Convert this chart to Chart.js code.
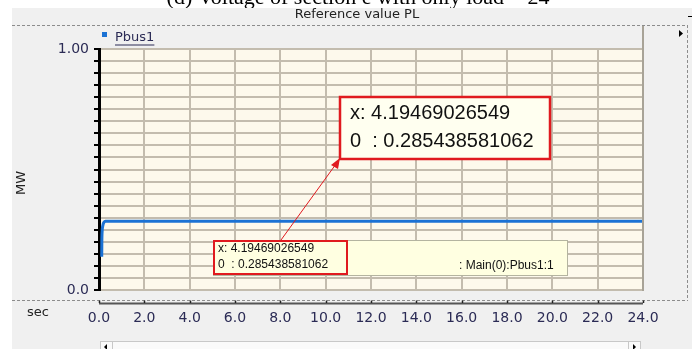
<!DOCTYPE html>
<html>
<head>
<meta charset="utf-8">
<script src="https://cdn.jsdelivr.net/npm/chart.js@4.4.1/dist/chart.umd.min.js"></script>
<style>
  html, body { margin: 0; padding: 0; background: #fff; }
  #wrap { width: 692px; height: 349px; position: relative; }
</style>
</head>
<body>
<div id="wrap"><canvas id="myChart" width="692" height="349"></canvas></div>
<script>
// simulation output: time (sec) and Pbus1 (MW)
const times = [0.12, 0.125, 0.14, 0.17, 0.22, 0.3, 0.4, 1.0, 24.0];
const pbus1 = [0.138, 0.2, 0.245, 0.268, 0.281, 0.285, 0.2854, 0.2854, 0.2854];

const xTicks = [0, 2, 4, 6, 8, 10, 12, 14, 16, 18, 20, 22, 24];
const yLabels = { 0: "0.0", 1: "1.00" };

// cursor read-out shown on the plot
const cursorX = "4.19469026549";
const cursorY = "0.285438581062";
const cursorSrc = ": Main(0):Pbus1:1";

const panelTitle = "Reference value PL";
const caption = "(d) Voltage of section e with only load = 24";

Chart.defaults.font.family = "DejaVu Sans";

const gridColor = "#c3bcae";
const labelColor = "#2b2b55";

const panel = {
    id: "panel",
    beforeDraw(chart) {
        const c = chart.ctx;
        const a = chart.chartArea;
        c.save();
        c.fillStyle = "#f0f0f0";
        c.fillRect(12, 8, chart.width - 12, chart.height - 8);

        // caption of the figure, cut by the window
        c.save();
        c.beginPath();
        c.rect(0, 0, chart.width, 8);
        c.clip();
        c.fillStyle = "#000";
        c.font = "22px 'Liberation Serif'";
        c.textAlign = "center";
        c.textBaseline = "alphabetic";
        c.fillText(caption, 358, 4);
        c.restore();

        c.fillStyle = "#222";
        c.font = "13px 'DejaVu Sans'";
        c.textAlign = "center";
        c.textBaseline = "middle";
        c.fillText(panelTitle, 357, 15);

        c.strokeStyle = "#8c8c8c";
        c.lineWidth = 1;
        c.setLineDash([3, 2]);
        c.beginPath();
        c.moveTo(12, 25.5); c.lineTo(687, 25.5);
        c.moveTo(12, 300.5); c.lineTo(687, 300.5);
        c.moveTo(687.5, 25); c.lineTo(687.5, 301);
        c.stroke();
        c.setLineDash([]);

        c.fillStyle = "#fdf9ec";
        c.fillRect(a.left, a.top, a.right - a.left, a.bottom - a.top);
        c.restore();
    },
    afterDraw(chart) {
        const c = chart.ctx;
        const a = chart.chartArea;
        const xs = chart.scales.x;
        c.save();

        // right edge of the plot
        c.strokeStyle = "#a8a397";
        c.lineWidth = 2;
        c.beginPath();
        c.moveTo(a.right, 26); c.lineTo(a.right, a.bottom + 1);
        c.stroke();

        // time axis line with its ticks
        c.strokeStyle = "#555";
        c.lineWidth = 2;
        c.beginPath();
        c.moveTo(xs.getPixelForValue(0), 303.5);
        c.lineTo(xs.getPixelForValue(24), 303.5);
        c.stroke();
        c.strokeStyle = "#222";
        c.lineWidth = 1.5;
        xTicks.forEach(t => {
            const px = Math.round(xs.getPixelForValue(t)) + 0.5;
            c.beginPath();
            c.moveTo(px, 300.5); c.lineTo(px, 303);
            c.stroke();
        });

        c.fillStyle = "#222";
        c.font = "13px 'DejaVu Sans'";
        c.textAlign = "center";
        c.textBaseline = "middle";
        c.fillText("sec", 38, 313);
        c.save();
        c.translate(22, 183);
        c.rotate(-Math.PI / 2);
        c.fillText("MW", 0, 0);
        c.restore();

        // legend
        const ds = chart.data.datasets[0];
        c.fillStyle = ds.borderColor;
        c.fillRect(102, 32, 5, 5);
        c.fillStyle = labelColor;
        c.textAlign = "left";
        c.fillText(ds.label, 115, 38);
        const w = c.measureText(ds.label).width;
        c.fillRect(115, 44.5, w, 1);

        // scrollbar
        c.fillStyle = "#fafafa";
        c.fillRect(100, 341, 541, 8);
        c.strokeStyle = "#c8c8c8";
        c.lineWidth = 1;
        c.strokeRect(100.5, 341.5, 540, 8);
        c.beginPath();
        c.moveTo(112.5, 341); c.lineTo(112.5, 349);
        c.moveTo(628.5, 341); c.lineTo(628.5, 349);
        c.stroke();
        c.fillStyle = "#000";
        c.beginPath();
        c.moveTo(107, 344); c.lineTo(104, 347); c.lineTo(107, 350); c.fill();
        c.beginPath();
        c.moveTo(633, 344); c.lineTo(636, 347); c.lineTo(633, 350); c.fill();
        c.beginPath();
        c.moveTo(679, 30); c.lineTo(683, 33.5); c.lineTo(679, 37); c.fill();
        c.fillRect(688, 16, 4, 1);

        // small cursor read-out
        c.fillStyle = "#ffffe1";
        c.fillRect(213, 240, 354, 35);
        c.strokeStyle = "#b4b4a0";
        c.strokeRect(213.5, 240.5, 354, 35);
        c.strokeStyle = "#e01a1f";
        c.lineWidth = 2;
        c.strokeRect(214, 241, 133, 33);
        c.fillStyle = "#111";
        c.font = "12px 'Liberation Sans'";
        c.textBaseline = "middle";
        c.fillText("x: " + cursorX, 218, 249, 106);
        c.fillText("0  : " + cursorY, 218, 265, 121);
        c.fillText(cursorSrc, 459, 266, 99);

        // pointer to the enlarged read-out
        c.strokeStyle = "#e01a1f";
        c.lineWidth = 1;
        c.beginPath();
        c.moveTo(281, 240); c.lineTo(336, 164);
        c.stroke();
        c.fillStyle = "#e01a1f";
        c.beginPath();
        c.moveTo(340, 158); c.lineTo(331, 165); c.lineTo(338, 169); c.closePath();
        c.fill();

        // enlarged read-out
        c.fillStyle = "#fffff0";
        c.fillRect(339, 96, 212, 64);
        c.strokeStyle = "#e01a1f";
        c.lineWidth = 2.5;
        c.strokeRect(340, 97, 210, 62);
        c.fillStyle = "#111";
        c.font = "20px 'Liberation Sans'";
        c.textBaseline = "alphabetic";
        c.fillText("x: " + cursorX, 350, 119, 165);
        c.fillText("0  : " + cursorY, 350, 147, 192);

        c.restore();
    }
};

const ctx = document.getElementById("myChart").getContext("2d");
const myChart = new Chart(ctx, {
    type: "line",
    data: {
        datasets: [{
            label: "Pbus1",
            data: times.map((t, i) => ({ x: t, y: pbus1[i] })),
            borderColor: "#1b72d4",
            borderWidth: 3,
            pointRadius: 0,
            cubicInterpolationMode: "monotone",
            fill: false
        }]
    },
    options: {
        responsive: false,
        animation: false,
        layout: { padding: { left: 0, top: 49, right: 49, bottom: 0 } },
        plugins: { legend: { display: false }, tooltip: { enabled: false } },
        scales: {
            x: {
                type: "linear",
                min: 0,
                max: 24,
                afterFit: s => { s.height = 59; },
                afterBuildTicks: s => { s.ticks = xTicks.map(v => ({ value: v })); },
                ticks: {
                    callback: v => v.toFixed(1),
                    color: labelColor,
                    font: { size: 14 },
                    padding: 20,
                    maxRotation: 0
                },
                grid: { color: gridColor, lineWidth: 2, drawTicks: false },
                border: { display: false }
            },
            y: {
                min: 0,
                max: 1,
                afterFit: s => { s.width = 99; },
                ticks: {
                    stepSize: 0.05,
                    autoSkip: false,
                    callback: v => {
                        if (Math.abs(v) < 1e-9) return yLabels[0];
                        if (Math.abs(v - 1) < 1e-9) return yLabels[1];
                        return "";
                    },
                    color: labelColor,
                    font: { size: 14 },
                    padding: 5
                },
                grid: { color: gridColor, lineWidth: 2, tickLength: 5, tickColor: "#000", tickWidth: 2 },
                border: { color: "#000", width: 3 }
            }
        }
    },
    plugins: [panel]
});
</script>
</body>
</html>
